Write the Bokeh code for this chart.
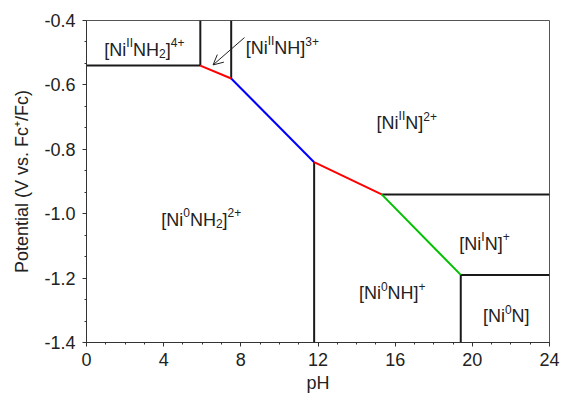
from bokeh.plotting import figure
from bokeh.models import FixedTicker, PrintfTickFormatter, Arrow, OpenHead, ColumnDataSource, Range1d
from bokeh.core.properties import value
from bokeh.embed import file_html
from bokeh.resources import INLINE

# ---- data: boundary points (pH, potential V vs Fc+/Fc) ----
ph_lim = [0, 24]
e_lim = [-1.4, -0.4]
triple_ph = [5.9, 7.5, 11.8, 15.3, 19.4]
triple_e = [-0.54, -0.58, -0.84, -0.94, -1.19]

x_ticks = [0, 4, 8, 12, 16, 20, 24]
y_ticks = [-1.4, -1.2, -1.0, -0.8, -0.6, -0.4]

# sloped boundaries: (from point idx, to point idx, colour)
slope_segments = [(0, 1, "#ff0000"), (1, 2, "#0000ff"), (2, 3, "#ff0000"), (3, 4, "#00c000")]

FONT = "Liberation Sans"
MAIN = 18
SMALL = 12

p = figure(width=561, height=403, output_backend="svg", toolbar_location=None,
           x_range=Range1d(*ph_lim), y_range=Range1d(*e_lim),
           min_border_left=86, min_border_right=12, min_border_top=20, min_border_bottom=61)
p.grid.visible = False
p.outline_line_color = "#555555"
p.outline_line_width = 1

# black boundaries (built from the data points)
blk = "#1a1a1a"
a, b, c, d, e = range(5)
black_segs = [
    ([ph_lim[0], triple_ph[a]], [triple_e[a], triple_e[a]]),
    ([triple_ph[a], triple_ph[a]], [e_lim[1], triple_e[a]]),
    ([triple_ph[b], triple_ph[b]], [e_lim[1], triple_e[b]]),
    ([triple_ph[c], triple_ph[c]], [triple_e[c], e_lim[0]]),
    ([triple_ph[d], ph_lim[1]], [triple_e[d], triple_e[d]]),
    ([triple_ph[e], ph_lim[1]], [triple_e[e], triple_e[e]]),
    ([triple_ph[e], triple_ph[e]], [triple_e[e], e_lim[0]]),
]
for xs, ys in black_segs:
    p.line(xs, ys, line_color=blk, line_width=2)
for i, j, col in slope_segments:
    p.line([triple_ph[i], triple_ph[j]], [triple_e[i], triple_e[j]], line_color=col, line_width=2)

# ---- rich text labels built from segments ----
W = {'[': 278, ']': 278, 'N': 722, 'i': 222, 'I': 278, 'H': 722, '+': 584}
for ch in "0123456789":
    W[ch] = 556

def seg_width(t, size):
    return sum(W.get(ch, 556) for ch in t) * size / 1000.0

main_src = dict(x=[], y=[], text=[], xo=[], yo=[])
small_src = dict(x=[], y=[], text=[], xo=[], yo=[])

def rich(x, y, parts, align="center"):
    total = sum(seg_width(t, MAIN if k == "n" else SMALL) for t, k in parts)
    off = -total / 2 if align == "center" else 0.0
    for t, k in parts:
        size = MAIN if k == "n" else SMALL
        src = main_src if k == "n" else small_src
        yo = 6 if k == "n" else (-1 if k == "sup" else 10)
        src["x"].append(x); src["y"].append(y); src["text"].append(t)
        src["xo"].append(off); src["yo"].append(yo)
        off += seg_width(t, size)

rich(3.0, -0.472, [("[Ni", "n"), ("II", "sup"), ("NH", "n"), ("2", "sub"), ("]", "n"), ("4+", "sup")])
rich(8.25, -0.468, [("[Ni", "n"), ("II", "sup"), ("NH]", "n"), ("3+", "sup")], align="left")
rich(16.6, -0.70, [("[Ni", "n"), ("II", "sup"), ("N]", "n"), ("2+", "sup")])
rich(5.95, -1.0, [("[Ni", "n"), ("0", "sup"), ("NH", "n"), ("2", "sub"), ("]", "n"), ("2+", "sup")])
rich(20.63, -1.074, [("[Ni", "n"), ("I", "sup"), ("N]", "n"), ("+", "sup")])
rich(15.85, -1.229, [("[Ni", "n"), ("0", "sup"), ("NH]", "n"), ("+", "sup")])
rich(21.76, -1.30, [("[Ni", "n"), ("0", "sup"), ("N]", "n")])

for src, size in ((main_src, MAIN), (small_src, SMALL)):
    p.text(x="x", y="y", text="text", x_offset="xo", y_offset="yo", source=ColumnDataSource(src),
           text_font=value(FONT), text_font_size=f"{size}px", text_color="#222222",
           text_align="left", text_baseline="alphabetic")

p.add_layout(Arrow(end=OpenHead(size=10, line_width=1, line_color="#222222"),
                   x_start=8.19, y_start=-0.453, x_end=6.56, y_end=-0.538,
                   line_width=1, line_color="#222222"))

# ---- axes ----
p.xaxis.ticker = FixedTicker(ticks=x_ticks, minor_ticks=list(range(0, 25)))
p.yaxis.ticker = FixedTicker(ticks=y_ticks, minor_ticks=[-1.4 + k * 0.2 / 3 for k in range(16)])
p.yaxis.formatter = PrintfTickFormatter(format="%.1f")
p.xaxis.axis_label = "pH"
p.yaxis.axis_label = "Potential (V vs. Fc\u207a/Fc)"
for ax in (p.xaxis, p.yaxis):
    ax.axis_line_color = "#333333"
    ax.major_tick_line_color = "#333333"
    ax.minor_tick_line_color = "#333333"
    ax.major_tick_in = 0
    ax.major_tick_out = 4
    ax.minor_tick_in = 0
    ax.minor_tick_out = 2
    ax.major_label_text_font = FONT
    ax.major_label_text_font_size = "18px"
    ax.major_label_text_color = "#222222"
    ax.axis_label_text_font = FONT
    ax.axis_label_text_font_size = "18px"
    ax.axis_label_text_font_style = "normal"
    ax.axis_label_text_color = "#222222"
p.xaxis.major_label_standoff = 6
p.yaxis.major_label_standoff = 7
p.xaxis.axis_label_standoff = 4
p.yaxis.axis_label_standoff = 9

open("out.html", "w").write(file_html(p, INLINE))
